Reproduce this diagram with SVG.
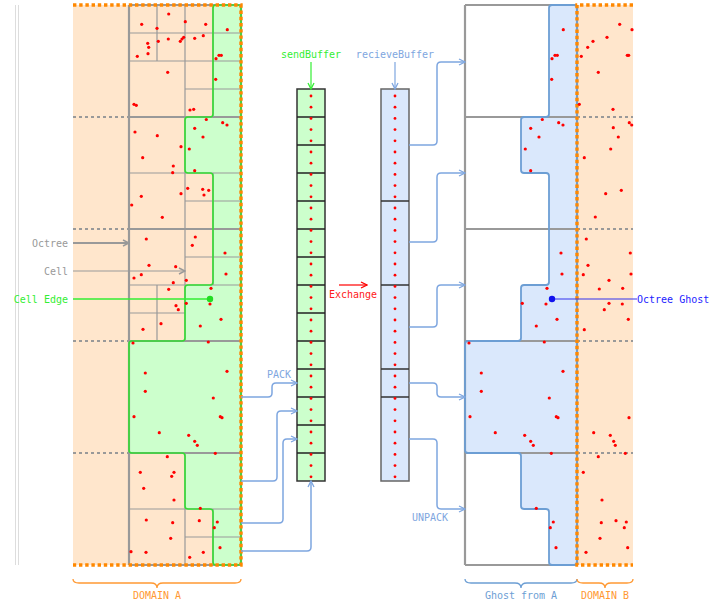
<svg xmlns="http://www.w3.org/2000/svg" xmlns:xlink="http://www.w3.org/1999/xlink" width="711" height="608" viewBox="0 0 711 608">
<style>
.oct{stroke:#999;stroke-width:2.2;fill:none}
.cell{stroke:#999;stroke-width:1.2;fill:none}
.dash{stroke:#999;stroke-width:2;stroke-dasharray:3 3;fill:none}
.odot{stroke:#ff8800;stroke-width:3.4;stroke-dasharray:3.4 2.8;fill:none}
.pt{fill:#ff0000}
.conn{stroke:#7ea6e0;stroke-width:1.5;fill:none;marker-end:url(#arB)}
.t{font-family:"DejaVu Sans Mono","Liberation Mono",monospace;font-size:10px}
.gfill{fill:#ccffcc;stroke:none}
.gstroke{fill:none;stroke:#33dd33;stroke-width:1.6}
.bfill{fill:#dae8fc;stroke:none}
.bstroke{fill:none;stroke:#6c9ed4;stroke-width:1.8}
</style>
<defs>
<marker id="arB" markerWidth="8" markerHeight="8" refX="7" refY="4" orient="auto" markerUnits="userSpaceOnUse"><path d="M1,1 L7,4 L1,7" fill="none" stroke="#7ea6e0" stroke-width="1.3"/></marker>
<marker id="arG" markerWidth="8" markerHeight="8" refX="7" refY="4" orient="auto" markerUnits="userSpaceOnUse"><path d="M1,1 L7,4 L1,7" fill="none" stroke="#999" stroke-width="1.5"/></marker>
<marker id="arGr" markerWidth="8" markerHeight="8" refX="7" refY="4" orient="auto" markerUnits="userSpaceOnUse"><path d="M1,1 L7,4 L1,7" fill="none" stroke="#33ee33" stroke-width="1.3"/></marker>
<marker id="arR" markerWidth="8" markerHeight="8" refX="7" refY="4" orient="auto" markerUnits="userSpaceOnUse"><path d="M1,1 L7,4 L1,7" fill="none" stroke="#ff0000" stroke-width="1.3"/></marker>
<path id="edge" d="M216,5 H238 Q241,5 241,8 V562 Q241,565 238,565 H216 Q213,565 213,562 V512 Q213,509 210,509 H188 Q185,509 185,506 V456 Q185,453 182,453 H132 Q129,453 129,450 V344 Q129,341 132,341 H182 Q185,341 185,338 V288 Q185,285 188,285 H210 Q213,285 213,282 V176 Q213,173 210,173 H188 Q185,173 185,170 V120 Q185,117 188,117 H210 Q213,117 213,114 V8 Q213,5 216,5 Z"/>
</defs>
<rect width="711" height="608" fill="#ffffff"/>
<g id="frame-lines">
<line x1="15.5" y1="5" x2="15.5" y2="565" stroke="#dddddd" stroke-width="1"/>
<line x1="18.5" y1="5" x2="18.5" y2="565" stroke="#dddddd" stroke-width="1"/>
</g>
<g id="domainA">
<rect x="73" y="5" width="168" height="560" fill="#ffe6cc"/>
<path class="dash" d="M73,117 H129 M73,229 H129 M73,341 H129 M73,453 H129"/>
<use xlink:href="#edge" class="gfill"/>
<path class="cell" d="M157,5 V61 M129,33 H241 M185,5 V117 M129,61 H241 M213,5 V117 M185,89 H241 M185,117 V229 M129,173 H241 M185,201 H241 M213,173 V229 M185,229 V341 M129,285 H241 M185,257 H241 M213,229 V285 M157,285 V341 M129,313 H185 M185,453 V565 M129,509 H241 M185,537 H241 M213,509 V565"/>
<path class="oct" d="M129,5 V565 M241,5 V565 M129,5 H241 M129,117 H241 M129,229 H241 M129,341 H241 M129,453 H241 M129,565 H241"/>
<use xlink:href="#edge" class="gstroke"/>
<path class="odot" d="M73,5 H241 V565 H73"/>
<g id="ptsA" class="pt">
<circle cx="168.7" cy="14" r="1.6"/><circle cx="141.7" cy="24.3" r="1.6"/><circle cx="185.3" cy="21.7" r="1.6"/><circle cx="205.7" cy="24.3" r="1.6"/><circle cx="157" cy="28.3" r="1.6"/><circle cx="203.3" cy="35.7" r="1.6"/><circle cx="147.7" cy="43.3" r="1.6"/><circle cx="158.3" cy="41.3" r="1.6"/><circle cx="168.3" cy="39" r="1.6"/><circle cx="180.3" cy="41.3" r="1.6"/><circle cx="182" cy="39" r="1.6"/><circle cx="183.7" cy="37.3" r="1.6"/><circle cx="194.7" cy="38.3" r="1.6"/><circle cx="148.7" cy="47.3" r="1.6"/><circle cx="148" cy="53.7" r="1.6"/><circle cx="137.3" cy="56.3" r="1.6"/><circle cx="167.7" cy="72.3" r="1.6"/><circle cx="134" cy="104.3" r="1.6"/><circle cx="136.3" cy="105.3" r="1.6"/><circle cx="190" cy="110" r="1.6"/><circle cx="193.7" cy="109.3" r="1.6"/>
<circle cx="135" cy="132" r="1.6"/><circle cx="157.3" cy="135.7" r="1.6"/><circle cx="181" cy="146.7" r="1.6"/><circle cx="142.7" cy="157.7" r="1.6"/><circle cx="173.3" cy="166" r="1.6"/><circle cx="172.7" cy="172.7" r="1.6"/><circle cx="187.7" cy="188.3" r="1.6"/><circle cx="202.7" cy="189.3" r="1.6"/><circle cx="208.7" cy="190.3" r="1.6"/><circle cx="181" cy="193.7" r="1.6"/><circle cx="204" cy="195" r="1.6"/><circle cx="141.3" cy="196.3" r="1.6"/><circle cx="131.7" cy="205" r="1.6"/><circle cx="162.3" cy="217.3" r="1.6"/>
<circle cx="146.3" cy="239" r="1.6"/><circle cx="195.3" cy="237" r="1.6"/><circle cx="192.3" cy="245.3" r="1.6"/><circle cx="149" cy="265.3" r="1.6"/><circle cx="175.7" cy="266.7" r="1.6"/><circle cx="141.3" cy="274.7" r="1.6"/><circle cx="134" cy="278" r="1.6"/><circle cx="173.3" cy="282.7" r="1.6"/><circle cx="186.3" cy="280.3" r="1.6"/><circle cx="168.7" cy="289.3" r="1.6"/><circle cx="176" cy="305.7" r="1.6"/><circle cx="178.3" cy="309.7" r="1.6"/><circle cx="161" cy="323.7" r="1.6"/><circle cx="143" cy="329.3" r="1.6"/>
<circle cx="167.3" cy="456.7" r="1.6"/><circle cx="140.3" cy="472.3" r="1.6"/><circle cx="174" cy="472.3" r="1.6"/><circle cx="171.7" cy="476.3" r="1.6"/><circle cx="143.7" cy="488.3" r="1.6"/><circle cx="174" cy="500" r="1.6"/><circle cx="146.3" cy="520" r="1.6"/><circle cx="172.7" cy="522.7" r="1.6"/><circle cx="199.3" cy="520.7" r="1.6"/><circle cx="170.7" cy="538.3" r="1.6"/><circle cx="131" cy="551.7" r="1.6"/><circle cx="146" cy="552.3" r="1.6"/><circle cx="203.3" cy="552.3" r="1.6"/><circle cx="189.7" cy="557.3" r="1.6"/>
</g>
<g id="ptsGreen" class="pt">
<circle cx="227.3" cy="29.7" r="1.6"/><circle cx="219" cy="55.3" r="1.6"/><circle cx="221.3" cy="55.3" r="1.6"/><circle cx="216" cy="58.7" r="1.6"/><circle cx="215.7" cy="79.3" r="1.6"/>
<circle cx="206.3" cy="119.5" r="1.6"/><circle cx="222.7" cy="122.7" r="1.6"/><circle cx="227" cy="125" r="1.6"/><circle cx="194.7" cy="128.3" r="1.6"/><circle cx="203" cy="137" r="1.6"/><circle cx="189.3" cy="149" r="1.6"/><circle cx="194.7" cy="170.7" r="1.6"/>
<circle cx="225" cy="253" r="1.6"/><circle cx="226" cy="274" r="1.6"/><circle cx="211" cy="288.3" r="1.6"/><circle cx="210" cy="304" r="1.6"/><circle cx="186.3" cy="303.3" r="1.6"/><circle cx="221" cy="319.3" r="1.6"/><circle cx="200.3" cy="326" r="1.6"/>
<circle cx="133" cy="343" r="1.6"/><circle cx="208.3" cy="342" r="1.6"/><circle cx="145.3" cy="373" r="1.6"/><circle cx="227" cy="371.3" r="1.6"/><circle cx="145.3" cy="391.3" r="1.6"/><circle cx="213.3" cy="398" r="1.6"/><circle cx="134" cy="416.7" r="1.6"/><circle cx="220.3" cy="416.7" r="1.6"/><circle cx="222" cy="417.7" r="1.6"/><circle cx="159.3" cy="432.7" r="1.6"/><circle cx="188.7" cy="435.3" r="1.6"/><circle cx="194.7" cy="441.3" r="1.6"/><circle cx="197.3" cy="445.3" r="1.6"/>
<circle cx="215.3" cy="453.3" r="1.6"/><circle cx="200.3" cy="508.3" r="1.6"/><circle cx="217.3" cy="522" r="1.6"/><circle cx="214.3" cy="527.7" r="1.6"/><circle cx="220" cy="547.7" r="1.6"/>
</g>
</g>
<g id="domainB">
<rect x="577" y="5" width="56" height="560" fill="#ffe6cc"/>
<path class="dash" d="M577,117 H633 M577,229 H633 M577,341 H633 M577,453 H633"/>
</g>
<g id="ghost">
<use xlink:href="#edge" class="bfill" transform="translate(336,0)"/>
<path class="oct" d="M465,5 V565 M577,5 V565 M465,5 H577 M465,117 H577 M465,229 H577 M465,341 H577 M465,453 H577 M465,565 H577"/>
<use xlink:href="#edge" class="bstroke" transform="translate(336,0)"/>
<path class="odot" d="M633,5 H577 V565 H633"/>
<use xlink:href="#ptsGreen" transform="translate(336,0)"/>
</g>
<g id="ptsB" class="pt">
<circle cx="619.7" cy="24.3" r="1.6"/><circle cx="632" cy="29.7" r="1.6"/><circle cx="593" cy="41.3" r="1.6"/><circle cx="607" cy="37.3" r="1.6"/><circle cx="587.7" cy="47.3" r="1.6"/><circle cx="581.3" cy="56.3" r="1.6"/><circle cx="627.3" cy="55.3" r="1.6"/><circle cx="628.7" cy="55.3" r="1.6"/><circle cx="598.3" cy="72.3" r="1.6"/><circle cx="579.3" cy="104.3" r="1.6"/><circle cx="613" cy="109.3" r="1.6"/><circle cx="613.3" cy="127.7" r="1.6"/><circle cx="629.3" cy="122.7" r="1.6"/><circle cx="631.7" cy="125" r="1.6"/><circle cx="618.3" cy="137" r="1.6"/><circle cx="610.7" cy="149" r="1.6"/><circle cx="584.3" cy="157.7" r="1.6"/><circle cx="621.3" cy="190.3" r="1.6"/><circle cx="605.7" cy="193.7" r="1.6"/><circle cx="595.3" cy="217" r="1.6"/><circle cx="586.3" cy="239" r="1.6"/><circle cx="630.3" cy="253" r="1.6"/><circle cx="588" cy="265.3" r="1.6"/><circle cx="583.3" cy="274.7" r="1.6"/><circle cx="631" cy="274" r="1.6"/><circle cx="609" cy="280.3" r="1.6"/><circle cx="599.3" cy="289" r="1.6"/><circle cx="622.7" cy="288.3" r="1.6"/><circle cx="609" cy="303.3" r="1.6"/><circle cx="622.3" cy="304" r="1.6"/><circle cx="604.3" cy="309.7" r="1.6"/><circle cx="628.3" cy="319.3" r="1.6"/><circle cx="584.3" cy="329.7" r="1.6"/><circle cx="629" cy="417.7" r="1.6"/><circle cx="593.7" cy="432.7" r="1.6"/><circle cx="610.3" cy="435.3" r="1.6"/><circle cx="613.7" cy="441.3" r="1.6"/><circle cx="615.3" cy="445.3" r="1.6"/><circle cx="598.3" cy="456.7" r="1.6"/><circle cx="625.3" cy="453.3" r="1.6"/><circle cx="583.3" cy="472.3" r="1.6"/><circle cx="602" cy="500" r="1.6"/><circle cx="601.3" cy="522.7" r="1.6"/><circle cx="616" cy="520.7" r="1.6"/><circle cx="626.3" cy="522" r="1.6"/><circle cx="624.3" cy="527.7" r="1.6"/><circle cx="600" cy="538.3" r="1.6"/><circle cx="627.7" cy="547.7" r="1.6"/><circle cx="586" cy="552.3" r="1.6"/>
</g>
<g id="sendBuffer">
<rect x="297" y="89" width="28" height="392" fill="#ccffcc" stroke="#333" stroke-width="1.5"/>
<path stroke="#222" stroke-width="1.6" d="M297,117 H325 M297,145 H325 M297,173 H325 M297,201 H325 M297,229 H325 M297,257 H325 M297,285 H325 M297,313 H325 M297,341 H325 M297,369 H325 M297,397 H325 M297,425 H325 M297,453 H325"/>
<g id="bufDots" class="pt">
<circle cx="311" cy="96" r="1.4"/><circle cx="311" cy="107.2" r="1.4"/><circle cx="311" cy="118.4" r="1.4"/><circle cx="311" cy="129.6" r="1.4"/><circle cx="311" cy="140.8" r="1.4"/><circle cx="311" cy="152" r="1.4"/><circle cx="311" cy="163.2" r="1.4"/><circle cx="311" cy="174.4" r="1.4"/><circle cx="311" cy="185.6" r="1.4"/><circle cx="311" cy="196.8" r="1.4"/><circle cx="311" cy="208" r="1.4"/><circle cx="311" cy="219.2" r="1.4"/><circle cx="311" cy="230.4" r="1.4"/><circle cx="311" cy="241.6" r="1.4"/><circle cx="311" cy="252.8" r="1.4"/><circle cx="311" cy="264" r="1.4"/><circle cx="311" cy="275.2" r="1.4"/><circle cx="311" cy="286.4" r="1.4"/><circle cx="311" cy="297.6" r="1.4"/><circle cx="311" cy="308.8" r="1.4"/><circle cx="311" cy="320" r="1.4"/><circle cx="311" cy="331.2" r="1.4"/><circle cx="311" cy="342.4" r="1.4"/><circle cx="311" cy="353.6" r="1.4"/><circle cx="311" cy="364.8" r="1.4"/><circle cx="311" cy="376" r="1.4"/><circle cx="311" cy="387.2" r="1.4"/><circle cx="311" cy="398.4" r="1.4"/><circle cx="311" cy="409.6" r="1.4"/><circle cx="311" cy="420.8" r="1.4"/><circle cx="311" cy="432" r="1.4"/><circle cx="311" cy="443.2" r="1.4"/><circle cx="311" cy="454.4" r="1.4"/><circle cx="311" cy="465.6" r="1.4"/><circle cx="311" cy="476.8" r="1.4"/>
</g>
<text class="t" x="311" y="57.5" text-anchor="middle" fill="#33ee33">sendBuffer</text>
</g>
<g id="recieveBuffer">
<rect x="381" y="89" width="28" height="392" fill="#dae8fc" stroke="#666" stroke-width="1.5"/>
<path stroke="#333" stroke-width="1.5" d="M381,201 H409 M381,285 H409 M381,369 H409 M381,397 H409"/>
<use xlink:href="#bufDots" transform="translate(84,0)"/>
<text class="t" x="395" y="57.5" text-anchor="middle" fill="#7ea6e0">recieveBuffer</text>
</g>
<g id="connectors">
<path d="M311,62 V89" stroke="#33ee33" stroke-width="1.2" fill="none" marker-end="url(#arGr)"/>
<path d="M395,62 V89" stroke="#7ea6e0" stroke-width="1.2" fill="none" marker-end="url(#arB)"/>
<path d="M339,285 H367" stroke="#ff0000" stroke-width="1.2" fill="none" marker-end="url(#arR)"/>
<path class="conn" d="M241,397 H268 Q272,397 272,393 V387 Q272,383 276,383 H297"/>
<path class="conn" d="M241,481 H273 Q277,481 277,477 V415 Q277,411 281,411 H297"/>
<path class="conn" d="M241,523 H279 Q283,523 283,519 V443 Q283,439 287,439 H297"/>
<path class="conn" d="M241,551 H307 Q311,551 311,547 V481"/>
<path class="conn" d="M409,145 H433 Q437,145 437,141 V66 Q437,62 441,62 H465"/>
<path class="conn" d="M409,242 H433 Q437,242 437,238 V177 Q437,173 441,173 H465"/>
<path class="conn" d="M409,327 H433 Q437,327 437,323 V289 Q437,285 441,285 H465"/>
<path class="conn" d="M409,383 H433 Q437,383 437,387 V393 Q437,397 441,397 H465"/>
<path class="conn" d="M409,439 H433 Q437,439 437,443 V505 Q437,509 441,509 H465"/>
<path d="M73,243 H129" stroke="#999" stroke-width="2" fill="none" marker-end="url(#arG)"/>
<path d="M73,271 H185" stroke="#999" stroke-width="1.2" fill="none" marker-end="url(#arG)"/>
<path d="M73,299 H210" stroke="#33ee33" stroke-width="1.5" fill="none"/>
<circle cx="210" cy="299" r="3.2" fill="#22dd22"/>
<path d="M552,299 H637" stroke="#3333ee" stroke-width="1.2" fill="none"/>
<circle cx="552" cy="299" r="3.2" fill="#1111ee"/>
</g>
<g id="labels">
<text class="t" x="68" y="246.5" text-anchor="end" fill="#999">Octree</text>
<text class="t" x="68" y="274.5" text-anchor="end" fill="#999">Cell</text>
<text class="t" x="68" y="302.5" text-anchor="end" fill="#33ee33">Cell Edge</text>
<text class="t" x="353" y="297.5" text-anchor="middle" fill="#ff2020">Exchange</text>
<text class="t" x="279" y="377.5" text-anchor="middle" fill="#7ea6e0">PACK</text>
<text class="t" x="430" y="520.5" text-anchor="middle" fill="#7ea6e0">UNPACK</text>
<text class="t" x="637" y="302.5" fill="#2222ff">Octree Ghost</text>
</g>
<g id="braces" fill="none" stroke-width="1.3">
<path d="M73,579 Q73,583 79,583 H151 Q157,583 157,588 Q157,583 163,583 H235 Q241,583 241,579" stroke="#ff9933"/>
<path d="M465,579 Q465,583 471,583 H515 Q521,583 521,588 Q521,583 527,583 H571 Q577,583 577,579" stroke="#6c9ed4"/>
<path d="M577,579 Q577,583 583,583 H599 Q605,583 605,588 Q605,583 611,583 H627 Q633,583 633,579" stroke="#ff9933"/>
</g>
<g id="brace-labels">
<text class="t" x="157" y="598.5" text-anchor="middle" fill="#ff9933">DOMAIN A</text>
<text class="t" x="521" y="599" text-anchor="middle" fill="#6c9ed4">Ghost from A</text>
<text class="t" x="605" y="599" text-anchor="middle" fill="#ff9933">DOMAIN B</text>
</g>
</svg>
